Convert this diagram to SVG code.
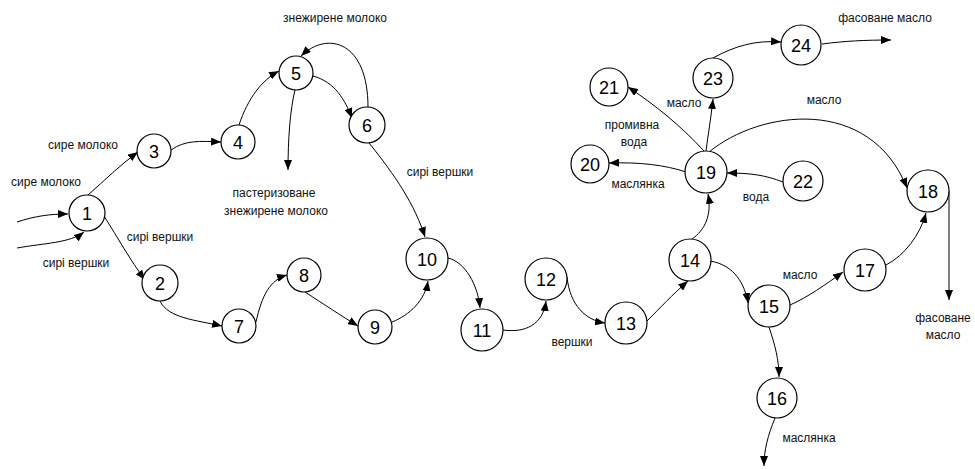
<svg xmlns="http://www.w3.org/2000/svg" width="975" height="469" viewBox="0 0 975 469">
<defs>
<marker id="a" viewBox="0 0 10 8" refX="10" refY="4" markerWidth="10" markerHeight="8" orient="auto" markerUnits="userSpaceOnUse"><path d="M0,0 L10,4 L0,8 z" fill="#000"/></marker>
<style>
.n circle{fill:#fff;stroke:#000;stroke-width:1.2}
.n text{font-family:"Liberation Sans",Arial,sans-serif;font-size:18px;text-anchor:middle;fill:#000}
.e path{fill:none;stroke:#000;stroke-width:1;marker-end:url(#a)}
.l{font-family:"Liberation Sans",Arial,sans-serif;font-size:12px;fill:#111;text-anchor:middle}
</style>
</defs>
<rect width="975" height="469" fill="#fff"/>
<g id="connectors" class="e">
<path d="M17,222 C35,216 50,214 68,214"/>
<path d="M17,248 C45,243 70,243 84,232"/>
<path d="M88,195 C105,180 120,165 138,152"/>
<path d="M104,216 C118,238 130,260 145,280"/>
<path d="M160,301 C168,318 195,320 222,326"/>
<path d="M171,150 C185,140 200,141 221,142"/>
<path d="M239,125 C248,98 262,80 279,71"/>
<path d="M313,76 C335,82 345,100 352,118"/>
<path d="M368,107 C368,42 328,30 301,56"/>
<path d="M295,90 C290,110 288,140 288,170"/>
<path d="M369,143 C395,175 415,205 425,237"/>
<path d="M256,322 C262,295 270,280 287,275"/>
<path d="M305,292 C325,305 340,315 358,326"/>
<path d="M392,322 C410,315 425,300 428,281"/>
<path d="M448,258 C465,262 478,285 480,308"/>
<path d="M503,330 C525,333 543,325 546,301"/>
<path d="M567,277 C570,305 585,320 605,323"/>
<path d="M647,321 C660,308 672,295 688,281"/>
<path d="M692,239 C705,230 712,215 708,194"/>
<path d="M710,261 C735,265 745,285 748,303"/>
<path d="M790,305 C808,297 825,285 843,272"/>
<path d="M886,265 C905,255 920,235 926,213"/>
<path d="M769,327 C775,345 779,360 779,377"/>
<path d="M775,418 C768,435 764,450 764,466"/>
<path d="M686,172 C665,165 640,162 609,163"/>
<path d="M704,151 C680,125 655,105 628,87"/>
<path d="M706,151 C708,135 711,118 713,99"/>
<path d="M783,182 C765,175 750,173 727,173"/>
<path d="M709,152 C760,110 870,95 907,188"/>
<path d="M713,58 C735,46 755,40 781,42"/>
<path d="M822,44 C845,41 865,40 891,40"/>
<path d="M949,191 L949,300"/>
</g>
<g id="labels">
<text class="l" x="83" y="149">сире молоко</text>
<text class="l" x="46" y="186">сире молоко</text>
<text class="l" x="160" y="241">сирі вершки</text>
<text class="l" x="76" y="267">сирі вершки</text>
<text class="l" x="335" y="22">знежирене молоко</text>
<text class="l" x="274" y="197">пастеризоване</text>
<text class="l" x="276" y="215">знежирене молоко</text>
<text class="l" x="440" y="176">сирі вершки</text>
<text class="l" x="572" y="346">вершки</text>
<text class="l" x="800" y="279">масло</text>
<text class="l" x="809" y="442">маслянка</text>
<text class="l" x="638" y="188">маслянка</text>
<text class="l" x="632" y="129">промивна</text>
<text class="l" x="634" y="146">вода</text>
<text class="l" x="684" y="107">масло</text>
<text class="l" x="756" y="201">вода</text>
<text class="l" x="824" y="104">масло</text>
<text class="l" x="885" y="22">фасоване масло</text>
<text class="l" x="943" y="322">фасоване</text>
<text class="l" x="943" y="339">масло</text>
</g>
<g id="n1" class="n"><circle cx="87" cy="213" r="18"/><text x="87" y="219.5">1</text></g>
<g id="n2" class="n"><circle cx="160" cy="283" r="18"/><text x="160" y="289.5">2</text></g>
<g id="n3" class="n"><circle cx="154" cy="151" r="17"/><text x="154" y="157.5">3</text></g>
<g id="n4" class="n"><circle cx="238" cy="142" r="17"/><text x="238" y="148.5">4</text></g>
<g id="n5" class="n"><circle cx="296" cy="73" r="17"/><text x="296" y="79.5">5</text></g>
<g id="n6" class="n"><circle cx="367" cy="125" r="18"/><text x="367" y="131.5">6</text></g>
<g id="n7" class="n"><circle cx="239" cy="326" r="17"/><text x="239" y="332.5">7</text></g>
<g id="n8" class="n"><circle cx="304" cy="275" r="17"/><text x="304" y="281.5">8</text></g>
<g id="n9" class="n"><circle cx="375" cy="327" r="17"/><text x="375" y="333.5">9</text></g>
<g id="n10" class="n"><circle cx="427" cy="259" r="21"/><text x="427" y="265.5">10</text></g>
<g id="n11" class="n"><circle cx="482" cy="330" r="21"/><text x="482" y="336.5">11</text></g>
<g id="n12" class="n"><circle cx="546" cy="279" r="21"/><text x="546" y="285.5">12</text></g>
<g id="n13" class="n"><circle cx="626" cy="323" r="21"/><text x="626" y="329.5">13</text></g>
<g id="n14" class="n"><circle cx="690" cy="260" r="21"/><text x="690" y="266.5">14</text></g>
<g id="n15" class="n"><circle cx="769" cy="306" r="21"/><text x="769" y="312.5">15</text></g>
<g id="n16" class="n"><circle cx="777" cy="398" r="20"/><text x="777" y="404.5">16</text></g>
<g id="n17" class="n"><circle cx="865" cy="270" r="21"/><text x="865" y="276.5">17</text></g>
<g id="n18" class="n"><circle cx="928" cy="191" r="21"/><text x="928" y="197.5">18</text></g>
<g id="n19" class="n"><circle cx="706" cy="172" r="21"/><text x="706" y="178.5">19</text></g>
<g id="n20" class="n"><circle cx="590" cy="164" r="19"/><text x="590" y="170.5">20</text></g>
<g id="n21" class="n"><circle cx="609" cy="87" r="19"/><text x="609" y="93.5">21</text></g>
<g id="n22" class="n"><circle cx="803" cy="181" r="20"/><text x="803" y="187.5">22</text></g>
<g id="n23" class="n"><circle cx="713" cy="78" r="20"/><text x="713" y="84.5">23</text></g>
<g id="n24" class="n"><circle cx="801" cy="45" r="20"/><text x="801" y="51.5">24</text></g>
</svg>
